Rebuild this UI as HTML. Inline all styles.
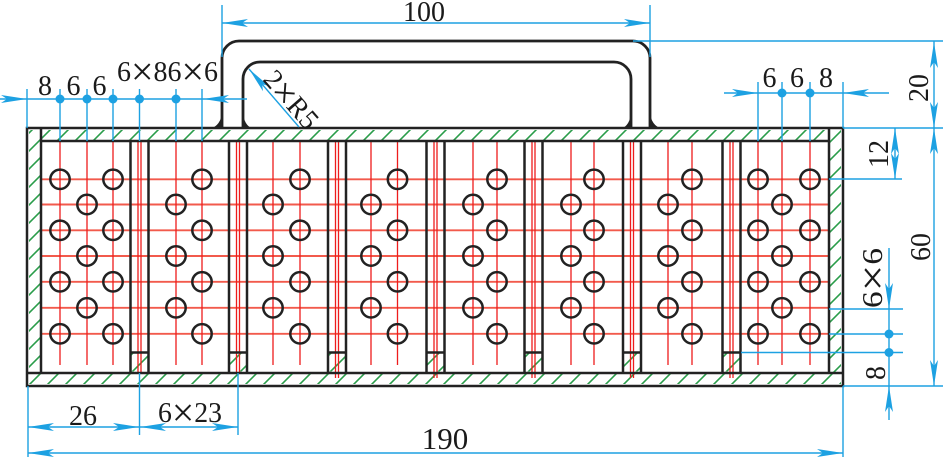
<!DOCTYPE html>
<html><head><meta charset="utf-8"><style>html,body{margin:0;padding:0;background:#fff;width:943px;height:457px;overflow:hidden}svg{display:block}</style></head><body>
<svg width="943" height="457" viewBox="0 0 943 457" xmlns="http://www.w3.org/2000/svg">
<defs>
<pattern id="h" patternUnits="userSpaceOnUse" width="18" height="18"><path d="M0,18 L18,0 M-4.5,4.5 L4.5,-4.5 M13.5,22.5 L22.5,13.5" stroke="#2a9d4a" stroke-width="1.6"/></pattern>
</defs>
<!-- hatching -->
<g fill="url(#h)">
<rect x="42" y="130" width="786" height="10"/>
<rect x="29" y="130" width="11" height="242"/>
<rect x="830" y="130" width="11" height="242"/>
<rect x="29" y="374" width="812" height="10"/>
<rect x="131.5" y="353.5" width="16" height="18"/>
<rect x="230" y="353.5" width="16" height="18"/>
<rect x="329" y="353.5" width="16" height="18"/>
<rect x="427.5" y="353.5" width="16" height="18"/>
<rect x="525.5" y="353.5" width="16" height="18"/>
<rect x="624" y="353.5" width="16" height="18"/>
<rect x="723.5" y="353.5" width="16" height="18"/>
</g>
<!-- red horizontal centre lines -->
<g stroke="#f25a4c" stroke-width="1.9">
<line x1="41" y1="179.3" x2="829" y2="179.3"/>
<line x1="41" y1="204.5" x2="829" y2="204.5"/>
<line x1="41" y1="230.3" x2="829" y2="230.3"/>
<line x1="41" y1="256" x2="829" y2="256"/>
<line x1="41" y1="281.8" x2="829" y2="281.8"/>
<line x1="41" y1="307.8" x2="829" y2="307.8"/>
<line x1="41" y1="333.8" x2="829" y2="333.8"/>
</g>
<!-- red vertical lines -->
<g stroke="#ee1c1c" stroke-width="1.3">
<line x1="60" y1="141" x2="60" y2="365"/>
<line x1="87" y1="141" x2="87" y2="365"/>
<line x1="113" y1="141" x2="113" y2="365"/>
<line x1="176" y1="141" x2="176" y2="365"/>
<line x1="202" y1="141" x2="202" y2="365"/>
<line x1="273" y1="141" x2="273" y2="365"/>
<line x1="300" y1="141" x2="300" y2="365"/>
<line x1="371" y1="141" x2="371" y2="365"/>
<line x1="397.5" y1="141" x2="397.5" y2="365"/>
<line x1="473" y1="141" x2="473" y2="365"/>
<line x1="497" y1="141" x2="497" y2="365"/>
<line x1="571" y1="141" x2="571" y2="365"/>
<line x1="594" y1="141" x2="594" y2="365"/>
<line x1="668" y1="141" x2="668" y2="365"/>
<line x1="692" y1="141" x2="692" y2="365"/>
<line x1="758" y1="141" x2="758" y2="365"/>
<line x1="782" y1="141" x2="782" y2="365"/>
<line x1="810" y1="141" x2="810" y2="365"/>
<line x1="138" y1="141" x2="138" y2="372"/><line x1="141" y1="141" x2="141" y2="372"/>
<line x1="236.5" y1="141" x2="236.5" y2="372"/><line x1="239.5" y1="141" x2="239.5" y2="372"/>
<line x1="335.5" y1="141" x2="335.5" y2="378"/><line x1="338.5" y1="141" x2="338.5" y2="378"/>
<line x1="434" y1="141" x2="434" y2="378"/><line x1="437" y1="141" x2="437" y2="378"/>
<line x1="532" y1="141" x2="532" y2="378"/><line x1="535" y1="141" x2="535" y2="378"/>
<line x1="630.5" y1="141" x2="630.5" y2="378"/><line x1="633.5" y1="141" x2="633.5" y2="378"/>
<line x1="730" y1="141" x2="730" y2="378"/><line x1="733" y1="141" x2="733" y2="378"/>
</g>
<!-- holes -->
<g fill="none" stroke="#222" stroke-width="2.5">
<circle cx="60" cy="179.3" r="9.7"/><circle cx="113" cy="179.3" r="9.7"/><circle cx="87" cy="204.5" r="9.7"/>
<circle cx="60" cy="230.3" r="9.7"/><circle cx="113" cy="230.3" r="9.7"/><circle cx="87" cy="256" r="9.7"/>
<circle cx="60" cy="281.8" r="9.7"/><circle cx="113" cy="281.8" r="9.7"/><circle cx="87" cy="307.8" r="9.7"/>
<circle cx="60" cy="333.8" r="9.7"/><circle cx="113" cy="333.8" r="9.7"/>

<circle cx="202" cy="179.3" r="9.7"/><circle cx="176" cy="204.5" r="9.7"/><circle cx="202" cy="230.3" r="9.7"/>
<circle cx="176" cy="256" r="9.7"/><circle cx="202" cy="281.8" r="9.7"/><circle cx="176" cy="307.8" r="9.7"/><circle cx="202" cy="333.8" r="9.7"/>

<circle cx="300" cy="179.3" r="9.7"/><circle cx="273" cy="204.5" r="9.7"/><circle cx="300" cy="230.3" r="9.7"/>
<circle cx="273" cy="256" r="9.7"/><circle cx="300" cy="281.8" r="9.7"/><circle cx="273" cy="307.8" r="9.7"/><circle cx="300" cy="333.8" r="9.7"/>

<circle cx="397.5" cy="179.3" r="9.7"/><circle cx="371" cy="204.5" r="9.7"/><circle cx="397.5" cy="230.3" r="9.7"/>
<circle cx="371" cy="256" r="9.7"/><circle cx="397.5" cy="281.8" r="9.7"/><circle cx="371" cy="307.8" r="9.7"/><circle cx="397.5" cy="333.8" r="9.7"/>

<circle cx="497" cy="179.3" r="9.7"/><circle cx="473" cy="204.5" r="9.7"/><circle cx="497" cy="230.3" r="9.7"/>
<circle cx="473" cy="256" r="9.7"/><circle cx="497" cy="281.8" r="9.7"/><circle cx="473" cy="307.8" r="9.7"/><circle cx="497" cy="333.8" r="9.7"/>

<circle cx="594" cy="179.3" r="9.7"/><circle cx="571" cy="204.5" r="9.7"/><circle cx="594" cy="230.3" r="9.7"/>
<circle cx="571" cy="256" r="9.7"/><circle cx="594" cy="281.8" r="9.7"/><circle cx="571" cy="307.8" r="9.7"/><circle cx="594" cy="333.8" r="9.7"/>

<circle cx="692" cy="179.3" r="9.7"/><circle cx="668" cy="204.5" r="9.7"/><circle cx="692" cy="230.3" r="9.7"/>
<circle cx="668" cy="256" r="9.7"/><circle cx="692" cy="281.8" r="9.7"/><circle cx="668" cy="307.8" r="9.7"/><circle cx="692" cy="333.8" r="9.7"/>

<circle cx="758" cy="179.3" r="9.7"/><circle cx="810" cy="179.3" r="9.7"/><circle cx="782" cy="204.5" r="9.7"/>
<circle cx="758" cy="230.3" r="9.7"/><circle cx="810" cy="230.3" r="9.7"/><circle cx="782" cy="256" r="9.7"/>
<circle cx="758" cy="281.8" r="9.7"/><circle cx="810" cy="281.8" r="9.7"/><circle cx="782" cy="307.8" r="9.7"/>
<circle cx="758" cy="333.8" r="9.7"/><circle cx="810" cy="333.8" r="9.7"/>
</g>
<!-- black outlines -->
<g stroke="#222" stroke-width="2.5" fill="none">
<rect x="27" y="128" width="816" height="258"/>
<line x1="41" y1="141" x2="829" y2="141"/>
<line x1="27" y1="373" x2="843" y2="373"/>
<line x1="41" y1="128" x2="41" y2="373"/>
<line x1="829" y1="128" x2="829" y2="373"/>
<path d="M130.5,141V373M148.5,141V373M130.5,352.5H148.5"/>
<path d="M229,141V373M247,141V373M229,352.5H247"/>
<path d="M328,141V373M346,141V373M328,352.5H346"/>
<path d="M426.5,141V373M444.5,141V373M426.5,352.5H444.5"/>
<path d="M524.5,141V373M542.5,141V373M524.5,352.5H542.5"/>
<path d="M623,141V373M641,141V373M623,352.5H641"/>
<path d="M722.5,141V373M740.5,141V373M722.5,352.5H740.5"/>
</g>
<!-- handle -->
<g stroke="#222" stroke-width="2.8" fill="none">
<path d="M222,128 V58 A17,17 0 0 1 239,41 H633 A17,17 0 0 1 650,58 V128"/>
<path d="M243,128 V79 A17,17 0 0 1 260,62 H614 A17,17 0 0 1 631,79 V128"/>
</g>
<g fill="#222">
<path d="M210,128 A12,17 0 0 0 222,111 L222,128 Z"/>
<path d="M243,111 A10,17 0 0 0 253,128 L243,128 Z"/>
<path d="M621,128 A10,17 0 0 0 631,111 L631,128 Z"/>
<path d="M650,111 A12,17 0 0 0 662,128 L650,128 Z"/>
</g>
<!-- blue dimension lines -->
<g stroke="#1da1e2" stroke-width="1.4" fill="none">
<path d="M222,5V57M650,5V57M222,23H650"/>
<path d="M633,41H943M843,128H943M843,386H943M934,41V386"/>
<path d="M829,179H902M895,128V179"/>
<path d="M829,309H903M829,334H903M741,352.5H903M889,248V420"/>
<path d="M0,99H247M27,89V128M60,89V141M87,89V141M113,89V141M139.5,89V141M176,89V141M202,89V141"/>
<path d="M724,93H889M758,82V141M782,82V141M810,82V141M843,82V128"/>
<path d="M28,386V457M139.5,373V435M238,373V435M28,427H238M28,453H843M843,386V457"/>
<path d="M249,69L299,127"/>
</g>
<g fill="#1da1e2">
<circle cx="60" cy="99" r="4.5"/><circle cx="87" cy="99" r="4.5"/><circle cx="113" cy="99" r="4.5"/><circle cx="139.5" cy="99" r="4.5"/><circle cx="176" cy="99" r="4.5"/>
<circle cx="782" cy="93" r="4.5"/><circle cx="810" cy="93" r="4.5"/>
<circle cx="889" cy="334" r="4.5"/><circle cx="889" cy="352.5" r="4.5"/>
<polygon points="27,99 1,95 7,99 1,103"/>
<polygon points="203,99 229,95 223,99 229,103"/>
<polygon points="222,23 248,19 242,23 248,27"/>
<polygon points="650,23 624,19 630,23 624,27"/>
<polygon points="758,93 732,89 738,93 732,97"/>
<polygon points="843,93 869,89 863,93 869,97"/>
<polygon points="934,42 930,68 934,62 938,68"/>
<polygon points="934,128 930,102 934,108 938,102"/>
<polygon points="934,128 930,154 934,148 938,154"/>
<polygon points="934,386 930,360 934,366 938,360"/>
<polygon points="895,128 891,154 895,148 899,154"/>
<polygon points="895,179 891,153 895,159 899,153"/>
<polygon points="889,309 885,283 889,289 893,283"/>
<polygon points="889,386 885,412 889,406 893,412"/>
<polygon points="28,427 54,423 48,427 54,431"/>
<polygon points="139,427 113,423 119,427 113,431"/>
<polygon points="140,427 166,423 160,427 166,431"/>
<polygon points="238,427 212,423 218,427 212,431"/>
<polygon points="28,453 54,449 48,453 54,457"/>
<polygon points="843,453 817,449 823,453 817,457"/>
<polygon points="249,69 269,86.1 262.1,84.1 263,91.3"/>
</g>
<!-- text -->
<g font-family="'Liberation Serif', serif" font-size="28" fill="#1a1a1a">
<text x="424" y="21" text-anchor="middle">100</text>
<text x="45" y="95" text-anchor="middle">8</text>
<text x="73.5" y="95" text-anchor="middle">6</text>
<text x="99.5" y="95" text-anchor="middle">6</text>
<text x="117" y="81" textLength="101" lengthAdjust="spacingAndGlyphs">6<tspan font-size="40" dy="4">×</tspan><tspan dy="-4">86</tspan><tspan font-size="40" dy="4">×</tspan><tspan dy="-4">6</tspan></text>
<text x="769.5" y="87" text-anchor="middle">6</text>
<text x="797" y="87" text-anchor="middle">6</text>
<text x="826" y="87" text-anchor="middle">8</text>
<text x="83" y="425" text-anchor="middle">26</text>
<text x="158" y="422" textLength="64" lengthAdjust="spacingAndGlyphs">6<tspan font-size="40" dy="4">×</tspan><tspan dy="-4">23</tspan></text>
<text x="445" y="449" text-anchor="middle" font-size="31">190</text>
<text transform="translate(928,88) rotate(-90)" text-anchor="middle">20</text>
<text transform="translate(888,154) rotate(-90)" text-anchor="middle">12</text>
<text transform="translate(930,247) rotate(-90)" text-anchor="middle">60</text>
<text transform="translate(882,278) rotate(-90)" text-anchor="middle" textLength="60" lengthAdjust="spacingAndGlyphs">6<tspan font-size="40" dy="4">×</tspan><tspan dy="-4">6</tspan></text>
<text transform="translate(885,373) rotate(-90)" text-anchor="middle">8</text>
<text transform="translate(262,80) rotate(49)" font-size="28" textLength="68" lengthAdjust="spacingAndGlyphs">2<tspan font-size="38" dy="4">×</tspan><tspan dy="-4">R5</tspan></text>
</g>
</svg>
</body></html>
